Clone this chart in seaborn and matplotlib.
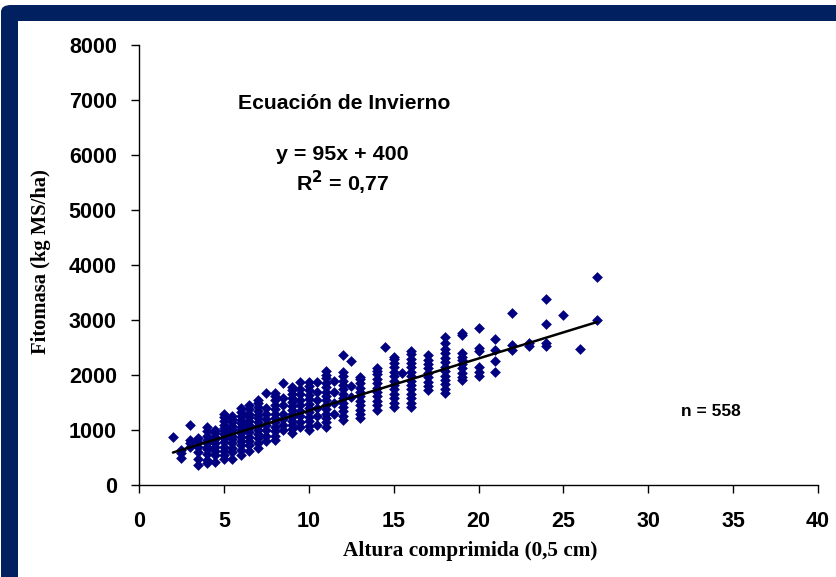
import numpy as np
import pandas as pd
import matplotlib
matplotlib.use("Agg")
import matplotlib.pyplot as plt
from matplotlib.patches import FancyBboxPatch, Rectangle
import seaborn as sns

# ---- data ----
alturas = [2, 2.5, 3, 3.5, 4, 4.5, 5, 5.5, 6, 6.5, 7, 7.5, 8, 8.5, 9, 9.5, 10,
           10.5, 11, 11.5, 12, 12.5, 13, 14, 14.5, 15, 15.5, 16, 17, 18, 19,
           20, 21, 22, 23, 24, 25, 26, 27]
fitomasa_por_altura = [
    [870],
    [500, 580, 640],
    [1100, 820, 760, 700],
    [360, 480, 600, 700, 780, 850],
    [400, 450, 560, 650, 700, 760, 820, 900, 980, 1050],
    [420, 550, 620, 700, 760, 830, 880, 940, 1000],
    [480, 540, 620, 700, 780, 860, 920, 980, 1040, 1100, 1160, 1230, 1290],
    [470, 600, 680, 760, 840, 900, 960, 1020, 1080, 1140, 1200, 1260],
    [540, 640, 720, 800, 880, 940, 1000, 1060, 1120, 1180, 1250, 1320, 1400],
    [620, 720, 800, 880, 960, 1040, 1100, 1160, 1230, 1300, 1380, 1450],
    [670, 760, 850, 930, 1000, 1070, 1140, 1210, 1280, 1350, 1420, 1500, 1550],
    [800, 900, 1000, 1100, 1200, 1300, 1400, 1680],
    [820, 900, 980, 1060, 1140, 1220, 1300, 1380, 1460, 1540, 1620, 1670],
    [1000, 1100, 1200, 1300, 1450, 1580, 1860],
    [950, 1020, 1090, 1160, 1230, 1300, 1370, 1440, 1510, 1580, 1650, 1720, 1780],
    [1050, 1150, 1250, 1350, 1450, 1550, 1650, 1750, 1870],
    [1000, 1080, 1160, 1240, 1320, 1400, 1480, 1560, 1640, 1720, 1800, 1880],
    [1100, 1250, 1400, 1550, 1700, 1880],
    [1060, 1140, 1220, 1300, 1380, 1460, 1540, 1620, 1700, 1780, 1860, 1940, 2000, 2080],
    [1300, 1500, 1700, 1900],
    [1180, 1260, 1340, 1420, 1500, 1580, 1660, 1740, 1820, 1900, 1980, 2060, 2360],
    [1600, 1800, 2260],
    [1210, 1290, 1370, 1450, 1530, 1610, 1690, 1770, 1850, 1930, 1970],
    [1370, 1450, 1530, 1610, 1690, 1770, 1850, 1930, 2010, 2080, 2120],
    [2510],
    [1420, 1500, 1580, 1660, 1740, 1820, 1900, 1980, 2060, 2140, 2220, 2300, 2320],
    [2030],
    [1420, 1500, 1580, 1660, 1740, 1820, 1900, 1980, 2060, 2140, 2220, 2300, 2380, 2440],
    [1730, 1800, 1880, 1960, 2040, 2120, 2200, 2280, 2360],
    [1670, 1750, 1830, 1910, 1990, 2070, 2150, 2230, 2310, 2400, 2480, 2580, 2690],
    [1910, 1970, 2040, 2120, 2200, 2270, 2330, 2400, 2730, 2760],
    [1990, 2060, 2150, 2440, 2490, 2850],
    [2060, 2260, 2455, 2650],
    [2460, 2545, 3120],
    [2530, 2580],
    [2520, 2580, 2920, 3380],
    [3090],
    [2470],
    [3000, 3790],
]
pendiente = 95
intercepto = 400
x_recta = [2, 27]
x_ticks = [0, 5, 10, 15, 20, 25, 30, 35, 40]
y_ticks = [0, 1000, 2000, 3000, 4000, 5000, 6000, 7000, 8000]

altura = [a for a, ys in zip(alturas, fitomasa_por_altura) for _ in ys]
fitomasa = [y for ys in fitomasa_por_altura for y in ys]
df = pd.DataFrame({"altura": altura, "fitomasa": fitomasa})

sns.set_theme(style="white")
plt.rcParams["font.family"] = ["Liberation Sans", "DejaVu Sans"]
plt.rcParams.update({"text.color": "black", "axes.labelcolor": "black",
                     "xtick.color": "black", "ytick.color": "black"})

W, H = 836, 577
fig = plt.figure(figsize=(W / 100, H / 100), dpi=100)
fig.patch.set_facecolor("white")

navy = "#00205F"
# frame
fig.patches.append(FancyBboxPatch((1 / W, -0.2), 1.2, 1.2 - 5 / H,
                                  boxstyle="round,pad=0,rounding_size=0.012",
                                  transform=fig.transFigure, facecolor=navy,
                                  edgecolor="none", zorder=-2))
fig.patches.append(Rectangle((18 / W, -0.1), 1.2, 1.1 - 21 / H,
                             transform=fig.transFigure, facecolor="white",
                             edgecolor="none", zorder=-1))

ax = fig.add_axes([139 / W, 1 - 485 / H, (818 - 139) / W, (485 - 45) / H])
ax.set_facecolor("none")
ax.set_zorder(1)

sns.scatterplot(data=df, x="altura", y="fitomasa", marker="D", s=30,
                color="#000080", edgecolor="#000080", linewidth=0, ax=ax,
                legend=False, zorder=3)
y_recta = [pendiente * x + intercepto for x in x_recta]
ax.plot(x_recta, y_recta, color="black", lw=1.8, zorder=4)

ax.set_xlim(0, 40)
ax.set_ylim(0, 8000)
ax.set_xticks(x_ticks)
ax.set_yticks(y_ticks)
ax.set_xticklabels([str(t) for t in x_ticks], fontsize=15.5, fontweight="bold")
ax.set_yticklabels([str(t) for t in y_ticks], fontsize=15.5, fontweight="bold")
ax.tick_params(axis="both", direction="out", length=6, width=1, color="black",
               labelcolor="black", left=True, bottom=True)
ax.tick_params(axis="x", pad=13)
ax.tick_params(axis="y", pad=10)
for s in ["top", "right"]:
    ax.spines[s].set_visible(False)
for s in ["left", "bottom"]:
    ax.spines[s].set_color("black")
    ax.spines[s].set_linewidth(1)

ax.set_xlabel("Altura comprimida (0,5 cm)", fontsize=15.3, fontweight="bold",
              family=["Liberation Serif", "DejaVu Serif"], color="black")
ax.xaxis.set_label_coords((470 - 139) / (818 - 139), -(551 - 485) / (485 - 45))
ax.set_ylabel("Fitomasa (kg MS/ha)", fontsize=14.8, fontweight="bold",
              family=["Liberation Serif", "DejaVu Serif"], color="black")
ax.yaxis.set_label_coords(-(139 - 41) / (818 - 139), (485 - 262) / (485 - 45))
ax.xaxis.label.set_va("center")
ax.yaxis.label.set_va("center")

ax.text(12.1, 6945, "Ecuación de Invierno", fontsize=15.2, fontweight="bold",
        ha="center", va="center", color="black")
ax.text(12.0, 6000, "y = 95x + 400", fontsize=15.4, fontweight="bold",
        ha="center", va="center", color="black")
ax.text(12.0, 5490, "R$^\\mathbf{2}$ = 0,77", fontsize=15.4, fontweight="bold",
        ha="center", va="center", color="black")
ax.text(33.7, 1345, "n = 558", fontsize=12.5, fontweight="bold",
        ha="center", va="center", color="black")

fig.savefig("out.png", dpi=100)
